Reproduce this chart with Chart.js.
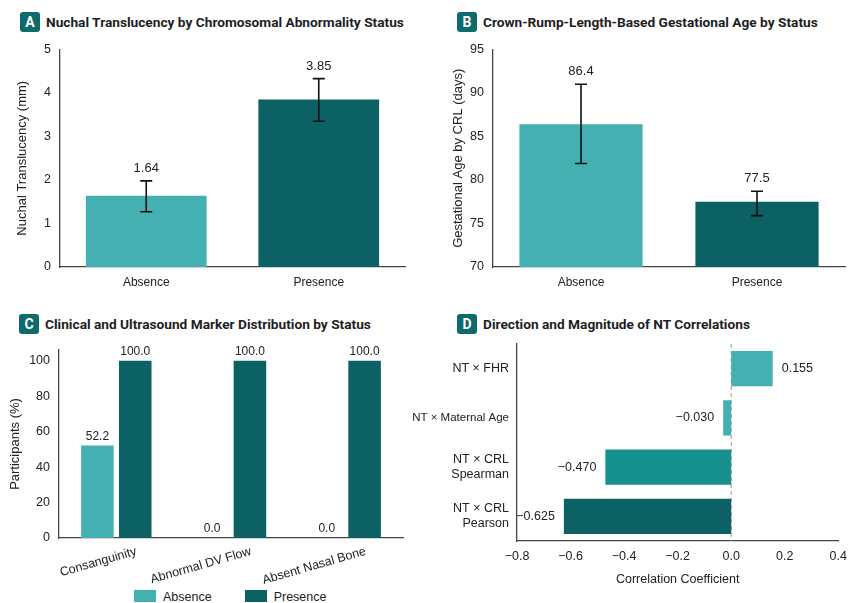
<!DOCTYPE html>
<html>
<head>
<meta charset="utf-8">
<script src="https://cdn.jsdelivr.net/npm/chart.js@4"></script>
<style>
  body { margin: 0; background: #fff; font-family: "Liberation Sans", Arial, sans-serif; }
  #wrap { position: relative; width: 850px; height: 603px; overflow: hidden; }
  .title { position: absolute; font-family: Roboto, "Liberation Sans", sans-serif; font-size: 13.7px; font-weight: bold; color: #1e1e1e; white-space: nowrap; }
  .badge { display: inline-block; width: 20px; height: 20px; border-radius: 3px; background: #0e6a6b;
           color: #fff; text-align: center; line-height: 20px; font-size: 14px; margin-right: 6px; vertical-align: middle; }
  .title span.t { vertical-align: middle; }
  .box { position: absolute; }
  #legendC { position: absolute; left: 134px; top: 590px; font-size: 12.5px; color: #222; white-space: nowrap; }
  #legendC i { display: inline-block; width: 22px; height: 12px; vertical-align: -1px; margin-right: 7px; }
  #legendC span { margin-right: 33px; }
</style>
</head>
<body>
<div id="wrap">
  <div class="title" style="left:20px;top:12px"><span class="badge">A</span><span class="t">Nuchal Translucency by Chromosomal Abnormality Status</span></div>
  <div class="title" style="left:457px;top:12px"><span class="badge">B</span><span class="t">Crown-Rump-Length-Based Gestational Age by Status</span></div>
  <div class="title" style="left:19px;top:314px"><span class="badge">C</span><span class="t">Clinical and Ultrasound Marker Distribution by Status</span></div>
  <div class="title" style="left:457px;top:314px"><span class="badge">D</span><span class="t">Direction and Magnitude of NT Correlations</span></div>
  <div class="box" style="left:0;top:38px;width:420px;height:262px"><canvas id="chartA"></canvas></div>
  <div class="box" style="left:425px;top:38px;width:425px;height:262px"><canvas id="chartB"></canvas></div>
  <div class="box" style="left:0;top:338px;width:425px;height:246px"><canvas id="chartC"></canvas></div>
  <div class="box" style="left:412px;top:321px;width:438px;height:270px"><canvas id="chartD"></canvas></div>
  <div id="legendC"></div>
</div>
<script>
// data
const statusLabels = ['Absence', 'Presence'];
const ntMean = [1.64, 3.85];
const ntLow = [1.27, 3.35];
const ntHigh = [1.98, 4.33];

const gaMean = [86.4, 77.5];
const gaLow = [81.9, 75.9];
const gaHigh = [91.0, 78.7];

const markerLabels = ['Consanguinity', 'Abnormal DV Flow', 'Absent Nasal Bone'];
const markerAbsence = [52.2, 0.0, 0.0];
const markerPresence = [100.0, 100.0, 100.0];

const corrLabels = [['NT × FHR'], ['NT × Maternal Age'], ['NT × CRL', 'Spearman'], ['NT × CRL', 'Pearson']];
const corrValues = [0.155, -0.030, -0.470, -0.625];

const LIGHT = '#45b0b2';
const MID = '#16918f';
const DARK = '#0b6163';
const AXIS = '#444';
const TXT = '#222';
const FONT = '"Liberation Sans", Arial, sans-serif';

Chart.defaults.font.family = FONT;
Chart.defaults.color = TXT;
Chart.defaults.animation = false;

// error bars + value labels for vertical charts
const barExtras = {
  id: 'barExtras',
  afterDatasetsDraw(chart, args, opts) {
    const c = chart.ctx;
    const y = chart.scales.y;
    chart.data.datasets.forEach((ds, di) => {
      const meta = chart.getDatasetMeta(di);
      meta.data.forEach((bar, i) => {
        let top = bar.y;
        if (opts.low) {
          const yl = y.getPixelForValue(opts.low[i]);
          const yh = y.getPixelForValue(opts.high[i]);
          c.save();
          c.strokeStyle = '#111';
          c.lineWidth = 1.6;
          c.beginPath();
          c.moveTo(bar.x, yl); c.lineTo(bar.x, yh);
          c.moveTo(bar.x - 6, yl); c.lineTo(bar.x + 6, yl);
          c.moveTo(bar.x - 6, yh); c.lineTo(bar.x + 6, yh);
          c.stroke();
          c.restore();
          top = yh;
        }
        c.save();
        c.fillStyle = TXT;
        c.font = (opts.size || 13) + 'px ' + FONT;
        c.textAlign = 'center';
        c.textBaseline = 'bottom';
        c.fillText(ds.data[i].toFixed(opts.dec), bar.x, top - (opts.gap || 5));
        c.restore();
      });
    });
  }
};

function fixWidth(w) { return s => { s.width = w; }; }
function fixHeight(h) { return s => { s.height = h; }; }

function statusChart(id, mean, low, high, min, max, step, title, padLeft, yw, dec, padRight) {
  return new Chart(document.getElementById(id), {
    type: 'bar',
    data: {
      labels: statusLabels,
      datasets: [{ data: mean, backgroundColor: [LIGHT, DARK], barPercentage: 0.7, categoryPercentage: 1 }]
    },
    options: {
      responsive: true,
      maintainAspectRatio: false,
      layout: { padding: { top: 10, right: padRight, bottom: 0, left: padLeft } },
      plugins: { legend: { display: false }, tooltip: { enabled: false },
                 barExtras: { low: low, high: high, dec: dec, size: 13, gap: 6 } },
      scales: {
        x: {
          grid: { display: false, drawTicks: false },
          border: { color: AXIS, width: 1.3 },
          ticks: { font: { size: 12 }, color: TXT, padding: 8 },
          afterFit: fixHeight(33)
        },
        y: {
          min: min, max: max,
          grid: { display: false, drawTicks: true, tickLength: 5, tickColor: AXIS },
          border: { color: AXIS, width: 1.3 },
          ticks: { stepSize: step, font: { size: 12.5 }, color: TXT, padding: 4 },
          title: { display: true, text: title, font: { size: 13 }, color: TXT, padding: 2 },
          afterFit: fixWidth(yw)
        }
      }
    },
    plugins: [barExtras]
  });
}

statusChart('chartA', ntMean, ntLow, ntHigh, 0, 5, 1, 'Nuchal Translucency (mm)', 13, 47, 2, 15);
statusChart('chartB', gaMean, gaLow, gaHigh, 70, 95, 5, 'Gestational Age by CRL (days)', 24, 44, 1, 5);

new Chart(document.getElementById('chartC'), {
  type: 'bar',
  data: {
    labels: markerLabels,
    datasets: [
      { label: 'Absence', data: markerAbsence, backgroundColor: LIGHT, barPercentage: 0.86, categoryPercentage: 0.66 },
      { label: 'Presence', data: markerPresence, backgroundColor: DARK, barPercentage: 0.86, categoryPercentage: 0.66 }
    ]
  },
  options: {
    responsive: true,
    maintainAspectRatio: false,
    layout: { padding: { top: 12, right: 22, bottom: 0, left: 6 } },
    plugins: {
      legend: { display: false },
      tooltip: { enabled: false },
      barExtras: { dec: 1, size: 12, gap: 3 }
    },
    scales: {
      x: {
        grid: { display: false, drawTicks: false },
        border: { color: AXIS, width: 1.3 },
        ticks: { font: { size: 12.5 }, color: TXT, minRotation: 16, maxRotation: 16, padding: 6, labelOffset: 20 },
        afterFit: fixHeight(46)
      },
      y: {
        min: 0, max: 106,
        grid: { display: false, drawTicks: true, tickLength: 5, tickColor: AXIS },
        border: { color: AXIS, width: 1.3 },
        ticks: { stepSize: 20, font: { size: 12.5 }, color: TXT, padding: 4 },
        afterBuildTicks: s => {
          const t = [];
          for (let v = 0; v <= 100; v += 20) t.push({ value: v });
          s.ticks = t;
        },
        title: { display: true, text: 'Participants (%)', font: { size: 13 }, color: TXT, padding: 2 },
        afterFit: fixWidth(53)
      }
    }
  },
  plugins: [barExtras]
});

document.getElementById('legendC').innerHTML =
  '<span><i style="background:' + LIGHT + '"></i>Absence</span><span><i style="background:' + DARK + '"></i>Presence</span>';

const zeroLine = {
  id: 'zeroLine',
  beforeDatasetsDraw(chart) {
    const c = chart.ctx, x = chart.scales.x.getPixelForValue(0), a = chart.chartArea;
    c.save();
    c.strokeStyle = '#999';
    c.lineWidth = 1;
    c.setLineDash([4, 3]);
    c.beginPath(); c.moveTo(x, a.top); c.lineTo(x, a.bottom); c.stroke();
    c.restore();
  },
  afterDatasetsDraw(chart) {
    const c = chart.ctx;
    const meta = chart.getDatasetMeta(0);
    meta.data.forEach((bar, i) => {
      const v = corrValues[i];
      c.save();
      c.fillStyle = TXT;
      c.font = '12.5px ' + FONT;
      c.textBaseline = 'middle';
      c.textAlign = v >= 0 ? 'left' : 'right';
      const txt = (v < 0 ? '\u2212' : '') + Math.abs(v).toFixed(3);
      c.fillText(txt, bar.x + (v >= 0 ? 9 : -9), bar.y);
      c.restore();
    });
  }
};

new Chart(document.getElementById('chartD'), {
  type: 'bar',
  data: {
    labels: corrLabels,
    datasets: [{ data: corrValues, backgroundColor: [LIGHT, LIGHT, MID, DARK], barPercentage: 0.72, categoryPercentage: 1 }]
  },
  options: {
    indexAxis: 'y',
    responsive: true,
    maintainAspectRatio: false,
    layout: { padding: { top: 4, right: 8, bottom: 0, left: 0 } },
    plugins: { legend: { display: false }, tooltip: { enabled: false } },
    scales: {
      y: {
        grid: { display: false, drawTicks: false },
        border: { color: AXIS, width: 1.3 },
        ticks: { font: c => ({ size: c.index === 1 ? 11.5 : 12.5 }), color: TXT, padding: 8 },
        afterFit: fixWidth(105)
      },
      x: {
        min: -0.8, max: 0.4,
        grid: { display: false, drawTicks: true, tickLength: 5, tickColor: AXIS },
        border: { color: AXIS, width: 1.3 },
        ticks: { stepSize: 0.2, font: { size: 12.5 }, color: TXT, padding: 3,
                 callback: v => (v < -0.001 ? '\u2212' : '') + Math.abs(v).toFixed(1) },
        title: { display: true, text: 'Correlation Coefficient', font: { size: 12.5 }, color: TXT, padding: { top: 4 } },
        afterFit: fixHeight(50)
      }
    }
  },
  plugins: [zeroLine]
});
</script>
</body>
</html>
